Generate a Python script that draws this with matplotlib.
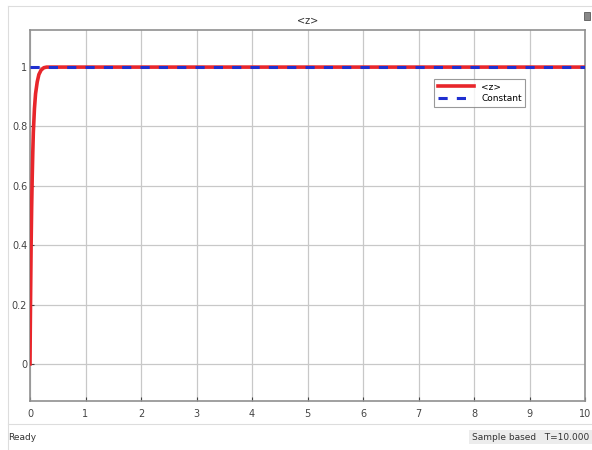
import numpy as np
import matplotlib.pyplot as plt

# step response
t = [0, 0.005, 0.01, 0.02, 0.03, 0.04, 0.05, 0.06, 0.08, 0.10, 0.13, 0.16, 0.20, 0.25, 0.30, 10.0]
z = [0, 0.12, 0.22, 0.40, 0.53, 0.63, 0.71, 0.78, 0.86, 0.91, 0.95, 0.975, 0.99, 0.998, 1.0, 1.0]
const_t = [0, 10.0]
const_v = [1.0, 1.0]

xticks = list(range(0, 11))
yticks = [0, 0.2, 0.4, 0.6, 0.8, 1]
ylabels = ['0', '0.2', '0.4', '0.6', '0.8', '1']

fig = plt.figure(figsize=(5.92, 4.5), dpi=100)
fig.patch.set_facecolor('white')
ax = fig.add_axes([30 / 592, 1 - 401 / 450, 555 / 592, 371 / 450])

ax.plot(t, z, color='#e8262b', lw=2.6, label='<z>', zorder=3)
ax.plot(const_t, const_v, color='#1f2fd0', lw=2.2, ls=(0, (3, 3)), label='Constant', zorder=4)

ax.set_xlim(0, 10)
ax.set_ylim(-0.125, 1.125)
ax.set_xticks(xticks)
ax.set_yticks(yticks)
ax.set_yticklabels(ylabels)
ax.grid(True, color='#c8c8c8', lw=0.9)
ax.tick_params(labelsize=7, colors='#444444', length=3, direction='in')
ax.tick_params(axis='x', pad=6)
ax.tick_params(axis='y', pad=2)
for s in ax.spines.values():
    s.set_color('#909090')
    s.set_linewidth(1.2)
ax.set_title('<z>', fontsize=7, color='#333333', pad=4)

leg = ax.legend(loc='upper left', bbox_to_anchor=(0.72, 0.88), fontsize=6.5,
                frameon=True, fancybox=False, edgecolor='#808080',
                handlelength=4, borderpad=0.4, labelspacing=0.3)
leg.get_frame().set_linewidth(0.8)

# status bar texts
fig.text(8 / 592, 1 - 437 / 450, 'Ready', fontsize=6.5, color='#333333', va='center')
fig.text(589 / 592, 1 - 437 / 450, 'Sample based   T=10.000', fontsize=6.5, color='#333333',
         va='center', ha='right',
         bbox=dict(boxstyle='square,pad=0.3', fc='#ececec', ec='none'))
fig.add_artist(plt.Line2D([8 / 592, 1], [1 - 424 / 450] * 2, color='#dddddd', lw=0.8))
fig.add_artist(plt.Line2D([8 / 592, 8 / 592], [0, 1 - 6 / 450], color='#dddddd', lw=0.8))
fig.add_artist(plt.Line2D([8 / 592, 1], [1 - 6 / 450] * 2, color='#dddddd', lw=0.8))
fig.add_artist(plt.Rectangle((584 / 592, 1 - 20 / 450), 6 / 592, 8 / 450,
                             fc='#888888', ec='#444444', lw=0.5))

fig.savefig('out.png', dpi=100)
